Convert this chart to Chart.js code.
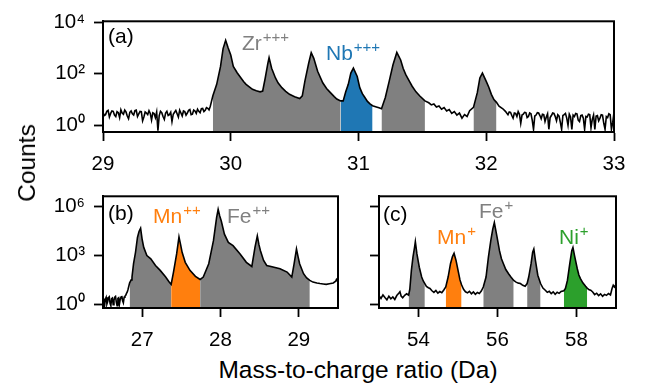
<!DOCTYPE html>
<html lang="en">
<head>
<meta charset="UTF-8">
<title>Mass spectrum</title>
<script src="https://cdn.jsdelivr.net/npm/chart.js"></script>
<style>
    body { margin: 0; background: #fff; font-family: 'Liberation Sans', Arial, sans-serif; }
    #wrap { position: relative; width: 656px; height: 387px; overflow: hidden; }
    canvas { position: absolute; }
    .axis-title { position: absolute; font-size: 24.5px; color: #000; white-space: nowrap; }
</style>
</head>
<body>
<div id="wrap">
    <canvas id="chartA" width="656" height="175" style="left:0;top:0"></canvas>
    <canvas id="chartB" width="345" height="180" style="left:0;top:175px"></canvas>
    <canvas id="chartC" width="300" height="180" style="left:345px;top:175px"></canvas>
    <div class="axis-title" id="ylab" style="left:27px;top:163px;transform:translate(-50%,-50%) rotate(-90deg)">Counts</div>
    <div class="axis-title" id="xlab" style="left:358px;top:370px;transform:translate(-50%,-50%)">Mass-to-charge ratio (Da)</div>
</div>
<script>
// panel (a): 29-33 Da
const massA = [29.00,29.01,29.02,29.03,29.04,29.05,29.06,29.07,29.08,29.09,29.10,29.11,29.12,29.13,29.14,29.15,29.16,29.17,29.18,29.19,
    29.20,29.21,29.22,29.23,29.24,29.25,29.26,29.27,29.28,29.29,29.30,29.31,29.32,29.33,29.34,29.35,29.36,29.37,29.38,29.39,
    29.40,29.41,29.42,29.43,29.44,29.45,29.46,29.47,29.48,29.49,29.50,29.51,29.52,29.53,29.54,29.55,29.56,29.57,29.58,29.59,
    29.60,29.61,29.62,29.63,29.64,29.65,29.66,29.67,29.68,29.69,29.70,29.71,29.72,29.73,29.74,29.75,29.76,29.77,29.78,29.79,
    29.80,29.81,29.82,29.83,29.84,29.86,29.89,29.92,29.94,29.96,29.98,30.00,30.02,30.05,30.07,30.10,30.12,30.15,30.17,30.20,
    30.23,30.25,30.27,30.29,30.30,30.32,30.35,30.37,30.40,30.43,30.46,30.50,30.54,30.56,30.58,30.61,30.63,30.65,30.68,30.72,
    30.75,30.78,30.81,30.83,30.86,30.88,30.90,30.92,30.94,30.96,30.99,31.01,31.03,31.05,31.07,31.09,31.11,31.14,31.16,31.18,
    31.21,31.24,31.27,31.30,31.33,31.35,31.37,31.40,31.42,31.45,31.48,31.52,31.55,31.57,31.59,31.61,31.63,31.65,31.67,31.69,
    31.71,31.73,31.75,31.77,31.79,31.81,31.83,31.85,31.87,31.90,31.93,31.95,31.97,32.00,32.02,32.04,32.06,32.08,32.10,32.13,
    32.15,32.16,32.17,32.18,32.19,32.20,32.21,32.22,32.23,32.24,32.25,32.26,32.27,32.28,32.29,32.30,32.31,32.32,32.33,32.34,
    32.35,32.36,32.37,32.38,32.39,32.40,32.41,32.42,32.43,32.44,32.45,32.46,32.47,32.48,32.49,32.50,32.51,32.52,32.53,32.54,
    32.55,32.56,32.57,32.58,32.59,32.60,32.61,32.62,32.63,32.64,32.65,32.66,32.67,32.68,32.69,32.70,32.71,32.72,32.73,32.74,
    32.75,32.76,32.77,32.78,32.79,32.80,32.81,32.82,32.83,32.84,32.85,32.86,32.87,32.88,32.89,32.90,32.91,32.92,32.93,32.94,
    32.95,32.96,32.97,32.98,32.99,33.00];
const countsA = [3.2,2.4,2.6,3.5,3.8,2.1,2.9,3.6,3.5,2.5,2.2,3.4,3.1,2.0,4.0,3.0,2.7,3.9,3.3,2.3,
    1.8,3.2,3.6,2.8,2.5,3.7,3.9,2.2,2.8,3.5,3.4,1.5,2.1,3.3,3.0,2.6,3.7,2.9,1.6,3.1,
    2.9,2.0,3.3,0.62,2.4,3.5,3.1,2.2,1.7,3.0,3.5,2.4,2.6,3.2,1.4,2.7,3.2,3.8,2.8,2.1,
    3.9,3.0,2.3,3.6,3.4,2.5,3.0,3.8,4.1,2.6,2.7,3.9,3.6,2.9,4.2,3.5,3.1,4.4,4.5,3.4,
    3.8,4.9,4.6,4.0,5.5,14,39,195,955,2000,1000,540,195,110,80,50,39,30,25,22,
    20,21.5,69,250,427,166,69,45,29,21,16,13,11,14,51,257,660,400,126,45,
    27,18.6,13,10.5,8.9,8.9,20,39,107,166,79,29,17,12,8.5,6.8,5.8,5.2,4.8,4.4,
    12,51,224,680,347,160,93,50,33,20,13.8,8.9,7.5,6.2,6.8,5.1,5.6,4.2,4.9,3.6,
    4.1,2.9,3.4,2.5,3.0,1.9,2.6,2.2,3.7,5,18.6,69,107,51,30,16,10,7.8,5.5,4.4,
    3.5,3.0,2.6,3.3,3.2,2.4,1.9,3.0,2.9,2.2,3.4,2.7,1.2,2.5,2.7,3.2,3.1,2.0,2.2,3.0,
    2.8,1.6,0.7,2.3,2.5,3.1,3.0,2.4,1.8,2.7,2.6,1.4,2.1,2.8,0.7,2.0,2.4,3.0,2.9,2.2,
    1.5,2.6,2.3,1.3,0.7,2.4,2.6,2.9,1.9,1.0,2.7,2.1,0.7,2.5,2.2,2.9,2.8,1.6,1.4,2.4,
    2.5,1.9,0.7,2.2,2.1,2.7,2.6,0.8,1.7,2.5,0.7,2.3,2.4,1.5,1.9,2.6,2.5,1.2,0.7,2.2,
    2.0,2.8,2.6,0.7,1.3,3.2];
const rangesA = [[29.86, 30.86], [30.86, 31.11], [31.18, 31.52], [31.90, 32.08]];
const ionsA = ['Zr', 'Nb', 'Zr', 'Zr'];
const xTicksA = [29, 30, 31, 32, 33];
const yTicksA = [1, 100, 10000];

// panel (b): 26.5-29.5 Da
const massB = [26.50,26.51,26.52,26.53,26.54,26.55,26.56,26.57,26.58,26.59,26.60,26.61,26.62,26.63,26.64,26.65,26.66,26.67,26.68,26.69,
    26.70,26.71,26.72,26.73,26.74,26.75,26.76,26.77,26.78,26.79,26.80,26.81,26.82,26.84,26.86,26.87,
    26.89,26.915,26.94,26.96,26.98,27.00,27.02,27.06,27.11,27.17,27.23,27.30,27.34,27.37,27.40,27.44,27.47,27.49,27.51,27.55,
    27.61,27.68,27.74,27.78,27.85,27.91,27.95,27.97,27.99,28.01,28.05,28.10,28.16,28.25,28.33,28.40,28.44,28.47,28.49,28.51,
    28.55,28.59,28.67,28.76,28.85,28.91,28.94,28.97,28.99,29.01,29.06,29.10,29.14,29.18,29.23,29.27,29.31,29.35,29.39,29.44,
    29.47,29.48,29.50];
const countsB = [2.2,1.3,0.8,2.0,2.6,1.0,1.4,2.5,2.8,1.1,0.8,2.1,2.3,0.9,1.7,2.6,2.9,1.3,0.8,2.2,
    2.4,1.0,1.9,2.7,3.1,1.6,1.2,2.6,3.0,3.4,4.5,5.5,8,20,30,45,
    300,1480,12000,28000,44000,9000,2950,930,590,230,115,45,24,16,91,1170,13000,4500,1480,360,
    115,50,32,45,295,7600,195000,630000,250000,123000,19000,6000,3800,1170,360,200,2950,15000,4500,1860,
    470,230,185,145,91,45,295,2340,800,295,72,40,28,22,19.5,18,17,16,17.5,19.5,
    25,32,22];
const rangesB = [[26.84, 27.37], [27.37, 27.74], [27.74, 29.14]];
const ionsB = ['Fe', 'Mn', 'Fe'];
const xTicksB = [27, 28, 29];

// panel (c): 53-59 Da
const massC = [53.00,53.05,53.10,53.15,53.20,53.25,53.30,53.35,53.40,53.45,53.50,53.53,53.56,53.60,53.65,53.70,53.75,53.78,53.82,53.86,
    53.90,53.92,53.96,54.02,54.08,54.12,54.16,54.20,54.25,54.29,54.34,54.39,54.44,54.49,54.54,54.59,54.64,54.69,54.75,54.81,
    54.86,54.90,54.95,55.01,55.05,55.09,55.14,55.19,55.24,55.29,55.34,55.39,55.44,55.49,55.54,55.59,55.64,55.71,55.77,55.83,
    55.88,55.92,55.95,55.99,56.05,56.10,56.15,56.21,56.28,56.34,56.41,56.47,56.53,56.58,56.64,56.70,56.75,56.79,56.85,56.89,
    56.92,56.96,57.02,57.09,57.15,57.21,57.26,57.31,57.36,57.41,57.46,57.51,57.56,57.61,57.68,57.72,57.77,57.83,57.88,57.91,
    57.95,58.02,58.06,58.10,58.16,58.23,58.27,58.32,58.36,58.41,58.46,58.51,58.56,58.61,58.66,58.71,58.76,58.81,58.86,58.90,
    58.93,58.96,59.00];
const countsC = [3.2,2.2,3.6,2.5,1.8,3.0,2.1,2.7,1.9,3.3,4.5,5.6,3.1,2.4,3.4,4.2,3.5,8,115,740,
    3000,6600,1170,180,45,26,18,12,10,9,6.5,5.2,6.8,4.6,5.8,4.9,7.2,11,45,295,
    810,1290,470,91,30,15,8,5.6,4.8,6.0,4.2,5.5,3.9,5.1,4.4,6.2,11,45,740,7600,
    39000,98000,40000,12000,1860,600,295,130,72,45,28,22,19,18,14,12.3,18,45,295,1480,
    2340,470,58,18,9.5,7,5.2,6.1,4.4,5.6,4.0,5.3,4.5,5.9,6.5,9,28,295,1860,2950,
    930,145,60,36,20,12.3,9.5,7.5,7,5.5,3.8,4.6,3.3,4.2,3.0,3.9,3.4,4.4,3.6,9,
    14,11,16];
const rangesC = [[53.75, 54.16], [54.69, 55.09], [55.64, 56.41], [56.75, 57.09], [57.68, 58.27]];
const ionsC = ['Fe', 'Mn', 'Fe', 'Fe', 'Ni'];
const xTicksC = [54, 56, 58];
const yTicksBC = [1, 1000, 1000000];

const ionColor = { Zr: '#808080', Fe: '#808080', Nb: '#1f77b4', Mn: '#ff7f0e', Ni: '#2ca02c' };
const sup = { 0: '\u2070', 3: '\u00b3', 2: '\u00b2', 4: '\u2074', 6: '\u2076' };

Chart.defaults.font.family = "'Liberation Sans', Arial, sans-serif";
Chart.defaults.color = '#000';

function buildDatasets(mass, counts, ranges, ions) {
    const pts = mass.map((m, i) => ({ x: m, y: counts[i] }));
    const sets = [{
        data: pts, borderColor: '#000', borderWidth: 1.6, pointRadius: 0, fill: false, order: 0
    }];
    ranges.forEach((r, i) => {
        sets.push({
            data: pts.filter(p => p.x >= r[0] - 1e-9 && p.x <= r[1] + 1e-9),
            borderWidth: 0, pointRadius: 0, backgroundColor: ionColor[ions[i]], fill: 'start', order: 1
        });
    });
    return sets;
}

// frame + ion labels
const panelDecor = {
    id: 'panelDecor',
    afterDraw(chart, args, opts) {
        const { ctx, chartArea: a } = chart;
        ctx.save();
        ctx.strokeStyle = '#000';
        ctx.lineWidth = 2;
        ctx.strokeRect(a.left, a.top, a.right - a.left, a.bottom - a.top);
        (opts.labels || []).forEach(l => {
            ctx.fillStyle = l.color;
            ctx.textBaseline = 'alphabetic';
            ctx.textAlign = 'left';
            ctx.font = "21px 'Liberation Sans', Arial, sans-serif";
            const x = a.left + l.dx, y = a.top + l.dy;
            ctx.fillText(l.text, x, y);
            if (l.sup) {
                const w = ctx.measureText(l.text).width;
                ctx.font = "15px 'Liberation Sans', Arial, sans-serif";
                ctx.fillText(l.sup, x + w + 1, y - 8);
            }
        });
        ctx.restore();
    }
};

function makeChart(id, datasets, xr, xTicks, yr, yTicks, yWidth, xHeight, pad, showY, labels) {
    const tickFont = { size: 20.5 };
    const grid = { display: true, drawOnChartArea: false, drawTicks: true, tickLength: 9, tickWidth: 1.8, tickColor: '#000' };
    const border = { display: true, color: '#000', width: 2 };
    return new Chart(document.getElementById(id), {
        type: 'line',
        data: { datasets },
        options: {
            responsive: false,
            animation: false,
            layout: { padding: pad },
            plugins: { legend: { display: false }, tooltip: { enabled: false }, panelDecor: { labels } },
            scales: {
                x: {
                    type: 'linear', min: xr[0], max: xr[1],
                    afterBuildTicks: s => { s.ticks = xTicks.map(v => ({ value: v })); },
                    afterFit: s => { s.height = xHeight; },
                    ticks: { font: tickFont, color: '#000', padding: 11, maxRotation: 0, autoSkip: false },
                    grid, border
                },
                y: {
                    type: 'logarithmic', min: yr[0], max: yr[1],
                    afterBuildTicks: s => { s.ticks = yTicks.map(v => ({ value: v })); },
                    afterFit: s => { s.width = yWidth; },
                    ticks: {
                        font: tickFont, color: '#000', padding: 9, autoSkip: false,
                        callback: v => showY ? '10' + sup[Math.round(Math.log10(v))] : ''
                    },
                    grid, border
                }
            }
        },
        plugins: [panelDecor]
    });
}

const gray = ionColor.Zr;
makeChart('chartA', buildDatasets(massA, countsA, rangesA, ionsA), [29, 33], xTicksA, [0.55, 11000], yTicksA,
    103, 43, { top: 19, right: 42, left: 0, bottom: 0 }, true,
    [{ text: '(a)', color: '#000', dx: 5, dy: 22 },
     { text: 'Zr', sup: '+++', color: gray, dx: 139, dy: 29 },
     { text: 'Nb', sup: '+++', color: ionColor.Nb, dx: 223, dy: 39 }]);

makeChart('chartB', buildDatasets(massB, countsB, rangesB, ionsB), [26.5, 29.5], xTicksB, [0.57, 4000000], yTicksBC,
    103, 47, { top: 20, right: 7, left: 0, bottom: 0 }, true,
    [{ text: '(b)', color: '#000', dx: 5, dy: 24 },
     { text: 'Mn', sup: '++', color: ionColor.Mn, dx: 50, dy: 27 },
     { text: 'Fe', sup: '++', color: gray, dx: 124, dy: 27 }]);

makeChart('chartC', buildDatasets(massC, countsC, rangesC, ionsC), [53, 59], xTicksC, [0.57, 4000000], yTicksBC,
    34, 47, { top: 20, right: 29, left: 0, bottom: 0 }, false,
    [{ text: '(c)', color: '#000', dx: 4, dy: 25 },
     { text: 'Fe', sup: '+', color: gray, dx: 100, dy: 22 },
     { text: 'Mn', sup: '+', color: ionColor.Mn, dx: 58, dy: 48 },
     { text: 'Ni', sup: '+', color: ionColor.Ni, dx: 180, dy: 48 }]);
</script>
</body>
</html>
